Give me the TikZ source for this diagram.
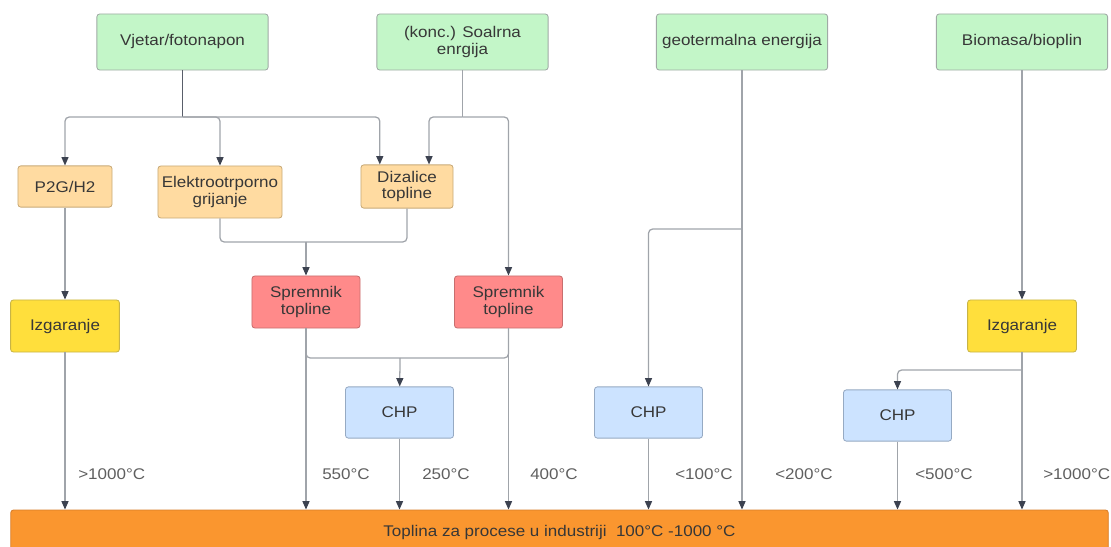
\documentclass[tikz,border=0pt]{standalone}
\usepackage{fontspec}
\setmainfont{Liberation Sans}[FakeStretch=1.1]
\usepackage{tikz}
\usetikzlibrary{arrows.meta,positioning}
\definecolor{srcgreen}{RGB}{195,246,200}
\definecolor{srcedge}{RGB}{160,170,165}
\definecolor{convorange}{RGB}{255,219,161}
\definecolor{convedge}{RGB}{200,170,120}
\definecolor{storered}{RGB}{255,138,138}
\definecolor{storeedge}{RGB}{200,110,110}
\definecolor{burnyellow}{RGB}{255,223,60}
\definecolor{burnedge}{RGB}{200,180,70}
\definecolor{chpblue}{RGB}{204,227,255}
\definecolor{chpedge}{RGB}{150,170,195}
\definecolor{barorange}{RGB}{250,150,47}
\definecolor{baredge}{RGB}{215,125,40}
\definecolor{linegray}{RGB}{160,164,170}
\definecolor{tipdark}{RGB}{60,66,80}
\definecolor{txtgray}{RGB}{55,55,55}

\tikzset{
  box/.style={draw, rounded corners=2pt, inner sep=0pt, align=center, line width=0.6pt,
    font=\fontsize{11}{12}\selectfont, text=txtgray},
  source/.style={box, fill=srcgreen, draw=srcedge, minimum width=4.28cm, minimum height=1.4cm},
  conv/.style={box, fill=convorange, draw=convedge, minimum height=1.05cm},
  store/.style={box, fill=storered, draw=storeedge, minimum width=2.7cm, minimum height=1.3cm},
  burn/.style={box, fill=burnyellow, draw=burnedge, minimum width=2.72cm, minimum height=1.3cm},
  chp/.style={box, fill=chpblue, draw=chpedge, minimum width=2.7cm, minimum height=1.28cm},
  link/.style={draw=linegray, line width=0.9pt, rounded corners=3pt},
  flow/.style={link, -{Triangle[width=5pt,length=6pt,color=tipdark]}},
  temp/.style={anchor=west, inner sep=0pt, text=txtgray!80, font=\fontsize{11}{12}\selectfont}
}

\begin{document}
\begin{tikzpicture}[x=0.025cm, y=-0.025cm]
\useasboundingbox (0,0) rectangle (1111,546);

% izvori
\node [source] (vjetar) at (182.5,42) {Vjetar/fotonapon};
\node [source] (sol) at (462.5,42) {(konc.) Soalrna\\enrgija};
\node [source] (geo) at (742,42) {geotermalna energija};
\node [source] (bio) at (1022,42) {Biomasa/bioplin};

% pretvorba
\node [conv, minimum width=2.35cm, minimum height=1.03cm] (p2g) at (65,186.5) {P2G/H2};
\node [conv, minimum width=3.1cm, minimum height=1.3cm] (elektro) at (220,192) {Elektrootrporno\\grijanje};
\node [conv, minimum width=2.3cm, minimum height=1.08cm] (diz) at (407,186.5) {Dizalice\\topline};

\node [store] (sp1) at (306,302) {Spremnik\\topline};
\node [store] (sp2) at (508.5,302) {Spremnik\\topline};
\node [burn] (izg1) at (65,326) {Izgaranje};
\node [burn] (izg2) at (1022,326) {Izgaranje};

\node [chp] (chp1) at (399.5,412.5) {CHP};
\node [chp] (chp2) at (648.5,412.5) {CHP};
\node [chp] (chp3) at (897.5,415.5) {CHP};

% toplina
\node [box, fill=barorange, draw=baredge, minimum width=27.43cm, minimum height=1.1cm] (bar) at (559.5,532)
  {Toplina za procese u industriji~~100°C -1000 °C};

% razvodi
\coordinate (jv) at (182.5,117);
\coordinate (js) at (462.5,117);
\coordinate (je) at (306,242);
\coordinate (jc) at (400,358);
\coordinate (jg) at (742,229);
\coordinate (jb) at (1022,370);

\draw [link, draw=tipdark!85] (vjetar) -- (jv);
\draw [flow] (jv) -| (p2g);
\draw [flow] (jv) -| (elektro);
\draw [flow] (jv) -| ([xshift=-0.68cm]diz.north);
\draw [link] (sol) -- (js);
\draw [flow] (js) -| ([xshift=0.55cm]diz.north);
\draw [flow] (js) -| (sp2);

\draw [link] (elektro) |- (je);
\draw [link] (diz) |- (je);
\draw [flow] (je) -- (sp1);
\draw [flow] (p2g) -- (izg1);

\draw [link] (sp1) |- (jc);
\draw [link] (sp2) |- (jc);
\draw [flow] (jc) -- (chp1);

\draw [flow] (geo) -- (geo |- bar.north);
\draw [flow] (jg) -| (chp2);
\draw [flow] (bio) -- (izg2);
\draw [flow] (jb) -| (chp3);

% prema industriji
\draw [flow] (izg1) -- (izg1 |- bar.north);
\draw [flow] (sp1) -- (sp1 |- bar.north);
\draw [flow] (chp1) -- (chp1 |- bar.north);
\draw [flow] (sp2) -- (sp2 |- bar.north);
\draw [flow] (chp2) -- (chp2 |- bar.north);
\draw [flow] (chp3) -- (chp3 |- bar.north);
\draw [flow] (izg2) -- (izg2 |- bar.north);

% temperature
\node [temp] (t1) at (78,474) {>1000°C};
\node [temp] (t2) at (322,474) {550°C};
\node [temp] (t3) at (422,474) {250°C};
\node [temp] (t4) at (530,474) {400°C};
\node [temp] (t5) at (675,474) {<100°C};
\node [temp] (t6) at (775,474) {<200°C};
\node [temp] (t7) at (915,474) {<500°C};
\node [temp] (t8) at (1043,474) {>1000°C};
\end{tikzpicture}
\end{document}
